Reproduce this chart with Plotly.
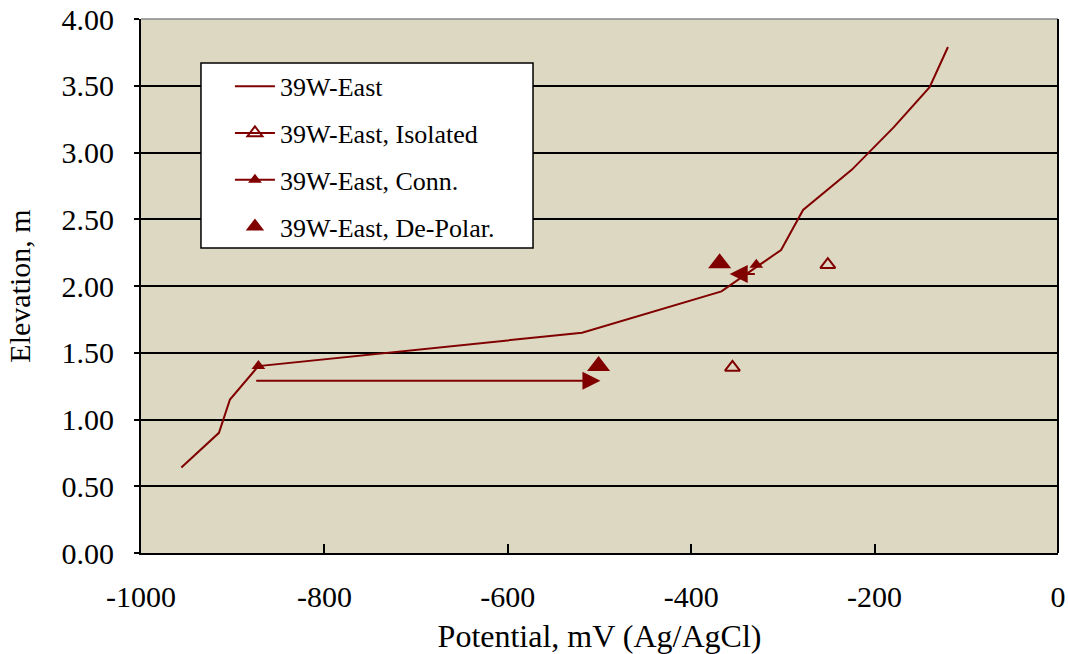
import plotly.graph_objects as go

# Main profile
east_x = [-956, -915, -903, -872, -519, -367, -302, -278, -225, -179, -140, -120]
east_y = [0.64, 0.90, 1.15, 1.40, 1.65, 1.96, 2.27, 2.57, 2.87, 3.19, 3.49, 3.79]

iso_x = [-355, -251]
iso_y = [1.39, 2.16]

conn_x = [-872, -329]
conn_y = [1.40, 2.16]

depol_x = [-501, -369]
depol_y = [1.40, 2.17]

# arrows: (tail_x, tail_y, head_x, head_y)
arrow_tail_x = [-876, -329]
arrow_tail_y = [1.29, 2.09]
arrow_head_x = [-499, -358]
arrow_head_y = [1.29, 2.09]

x_tickvals = [-1000, -800, -600, -400, -200, 0]
x_ticktext = ["-1000", "-800", "-600", "-400", "-200", "0"]
y_tickvals = [0, 0.5, 1, 1.5, 2, 2.5, 3, 3.5, 4]
y_ticktext = ["0.00", "0.50", "1.00", "1.50", "2.00", "2.50", "3.00", "3.50", "4.00"]

RED = "#800000"
FONT = "Liberation Serif"

def gap(xs):
    out = []
    for i, v in enumerate(xs):
        if i:
            out.append(None)
        out.append(v)
    return out

fig = go.Figure()
fig.add_trace(go.Scatter(x=east_x, y=east_y, mode="lines", name="39W-East",
                         line=dict(color=RED, width=2), legendgroup="a"))
fig.add_trace(go.Scatter(x=gap(iso_x), y=gap(iso_y), mode="lines+markers",
                         name="39W-East, Isolated", connectgaps=False,
                         line=dict(color=RED, width=2),
                         marker=dict(symbol="triangle-up-open", size=13, color=RED,
                                     line=dict(color=RED, width=2)),
                         legendgroup="b"))
fig.add_trace(go.Scatter(x=gap(conn_x), y=gap(conn_y), mode="lines+markers",
                         name="39W-East, Conn.", connectgaps=False,
                         line=dict(color=RED, width=2),
                         marker=dict(symbol="triangle-up", size=12, color=RED),
                         legendgroup="c"))
fig.add_trace(go.Scatter(x=depol_x, y=depol_y, mode="markers",
                         name="39W-East, De-Polar.",
                         marker=dict(symbol="triangle-up", size=20, color=RED),
                         legendgroup="d"))

for tx, ty, hx, hy in zip(arrow_tail_x, arrow_tail_y, arrow_head_x, arrow_head_y):
    fig.add_annotation(x=hx, y=hy, ax=tx, ay=ty, xref="x", yref="y",
                       axref="x", ayref="y", showarrow=True, arrowhead=2,
                       arrowsize=1.8, arrowwidth=2, arrowcolor=RED, text="")

# legend box
fig.add_shape(type="rect", xref="paper", yref="paper",
              x0=0.0654, x1=0.4275, y0=0.571, y1=0.9176,
              fillcolor="white", line=dict(color="black", width=1.5), layer="above")
# top border (gray)
fig.add_shape(type="line", xref="paper", yref="paper", x0=0, x1=1, y0=1, y1=1,
              line=dict(color="#888888", width=1.5))
# right border
fig.add_shape(type="line", xref="paper", yref="paper", x0=1, x1=1, y0=0, y1=1,
              line=dict(color="black", width=2))

fig.update_layout(
    width=1068, height=654,
    margin=dict(l=141, r=10, t=19, b=101),
    paper_bgcolor="white",
    plot_bgcolor="#DDD8C2",
    font=dict(family=FONT, color="black", size=26),
    showlegend=True,
    legend=dict(x=0.097, y=0.918, xanchor="left", yanchor="top",
                bgcolor="rgba(0,0,0,0)", borderwidth=0,
                font=dict(family=FONT, size=26, color="black"),
                traceorder="grouped", tracegroupgap=10, itemwidth=40),
)
fig.update_xaxes(range=[-1000, 0], tickvals=x_tickvals, ticktext=x_ticktext,
                 showgrid=False, zeroline=False, automargin=False,
                 showline=True, linecolor="black", linewidth=2,
                 ticks="inside", ticklen=9, tickwidth=2, tickcolor="black",
                 ticklabelstandoff=16,
                 tickfont=dict(size=30, family=FONT),
                 title=dict(text="Potential, mV (Ag/AgCl)", font=dict(size=32, family=FONT),
                            standoff=14))
fig.update_yaxes(range=[0, 4], tickvals=y_tickvals, ticktext=y_ticktext,
                 showgrid=True, gridcolor="black", gridwidth=2, zeroline=False,
                 automargin=False,
                 showline=True, linecolor="black", linewidth=2, mirror=False,
                 ticks="outside", ticklen=5, tickwidth=2, tickcolor="black",
                 ticklabelstandoff=14,
                 tickfont=dict(size=30, family=FONT),
                 title=dict(text="Elevation, m", font=dict(size=30, family=FONT),
                            standoff=22))

fig.write_html("out.html")
